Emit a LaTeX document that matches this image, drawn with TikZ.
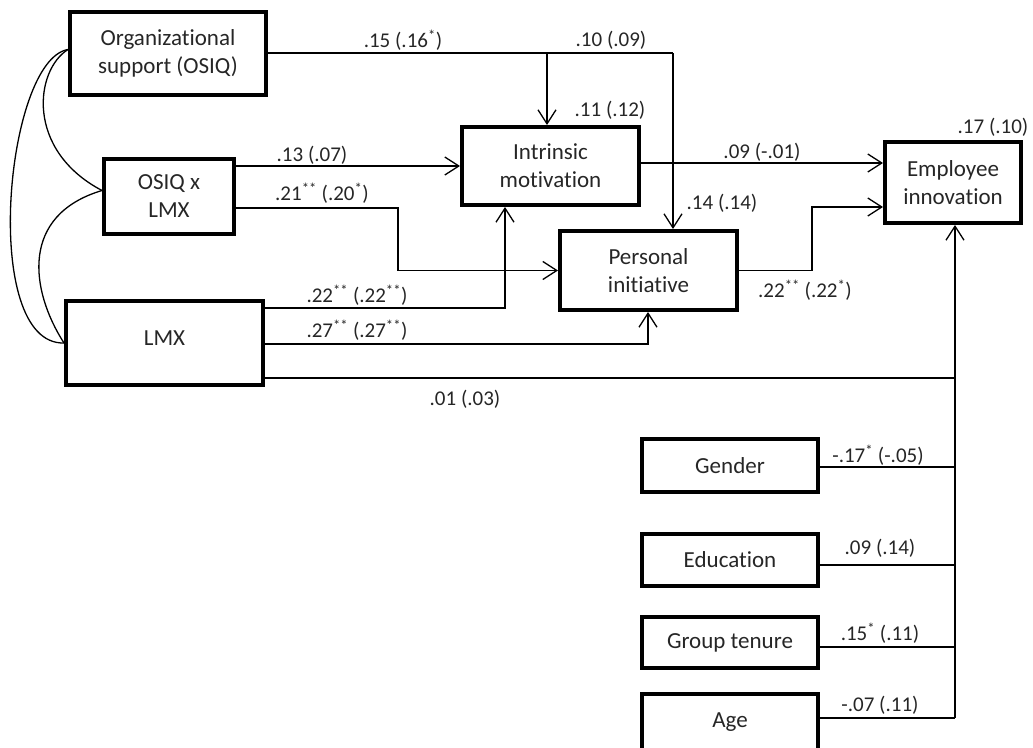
\documentclass[tikz,border=0pt]{standalone}
\usepackage{fontspec}
\setmainfont{Carlito}[RawFeature={-liga}]
\usetikzlibrary{arrows.meta,calc}
\begin{document}
\begin{tikzpicture}[x=1pt,y=-1pt,
  box/.style={draw=black,line width=4pt,align=center,inner sep=0pt,font=\fontsize{23}{28}\selectfont,text=black!85},
  lab/.style={inner sep=0pt,font=\fontsize{21}{25}\selectfont,text=black!85},
  con/.style={line width=1.3pt},
  arr/.style={line width=1.3pt,-{Straight Barb[length=14pt,width=18pt]}}]
\useasboundingbox (0,0) rectangle (1033,747);
\clip (0,0) rectangle (1033,747);
% boxes
\node[box,minimum width=196pt,minimum height=83pt] (org) at (168,53.5) {Organizational\\support (OSIQ)};
\node[box,minimum width=130pt,minimum height=75pt] (osiq) at (169,196.5) {OSIQ x\\LMX};
\node[box,minimum width=197pt,minimum height=84pt] (lmx) at (164.5,343) {\raisebox{9pt}{LMX}};
\node[box,minimum width=177pt,minimum height=78pt] (im) at (550.5,166) {Intrinsic\\motivation};
\node[box,minimum width=177pt,minimum height=79pt] (pi) at (648.5,270.5) {Personal\\initiative};
\node[box,minimum width=136pt,minimum height=81pt] (ei) at (953,182.5) {Employee\\innovation};
\node[box,minimum width=176pt,minimum height=53pt] (gender) at (730,465.5) {Gender};
\node[box,minimum width=176pt,minimum height=52pt] (edu) at (730,560) {Education};
\node[box,minimum width=176pt,minimum height=51pt] (gt) at (730,642.5) {Group tenure};
\node[box,minimum width=176pt,minimum height=56pt] (age) at (730,722) {Age};
\coordinate (bt) at (955,718);
\coordinate (ob) at (547,53);
\coordinate (oc) at (673,53);
% correlation curves
\draw[con] ($(org.west)+(0,-4)$) .. controls (5,60) and (-20,345) .. (lmx.west);
\draw[con] ($(org.west)+(0,-4)$) .. controls (35,70) and (25,150) .. ($(osiq.west)+(0,-6)$);
\draw[con] ($(osiq.west)+(0,-6)$) .. controls (20,215) and (30,290) .. (lmx.west);
% org support paths
\draw[con] ($(org.east)+(0,-0.5)$) -- (oc);
\draw[arr] (ob) -- (ob |- im.north);
\draw[arr] (oc) -- (oc |- pi.north);
% OSIQ x LMX
\draw[arr] (im.west -| osiq.east) -- (im.west);
\draw[arr] ($(osiq.east)+(0,11.5)$) -- (398,208) |- (pi.west);
% LMX
\draw[arr] ($(lmx.east)+(0,-35)$) -| ($(im.south)+(-45.5,0)$);
\draw[arr] ($(lmx.east)+(0,1)$) -| ($(pi.south)+(-0.5,0)$);
\draw[con] ($(lmx.east)+(0,35)$) -| (bt);
% mediators to outcome
\draw[arr] ($(im.east)+(0,-3)$) coordinate (imo) -- (imo -| ei.west);
\draw[arr] (pi.east) -- ++(73,0) |- ($(ei.west)+(0,24.5)$);
% controls
\draw[arr] (bt) -- (bt |- ei.south);
\draw[con] ($(gender.east)+(0,1.5)$) -| (bt);
\draw[con] ($(edu.east)+(0,5)$) -| (bt);
\draw[con] ($(gt.east)+(0,4.5)$) -| (bt);
\draw[con] ($(age.east)+(0,-4)$) -- (bt);
% labels
\node[lab] (l1) at (403,40) {.15 (.16\textsuperscript{*})};
\node[lab] (l2) at (611,40) {.10 (.09)};
\node[lab] (l3) at (610,110) {.11 (.12)};
\node[lab] (l4) at (312,155) {.13 (.07)};
\node[lab] (l5) at (322,193) {.21\textsuperscript{**} (.20\textsuperscript{*})};
\node[lab] (l6) at (357,295) {.22\textsuperscript{**} (.22\textsuperscript{**})};
\node[lab] (l7) at (357,330) {.27\textsuperscript{**} (.27\textsuperscript{**})};
\node[lab] (l8) at (465,399) {.01 (.03)};
\node[lab] (l9) at (762,152) {.09 (-.01)};
\node[lab] (l10) at (722,203) {.14 (.14)};
\node[lab] (l11) at (805,290) {.22\textsuperscript{**} (.22\textsuperscript{*})};
\node[lab] (l12) at (993,127) {.17 (.10)};
\node[lab] (l13) at (878,455) {-.17\textsuperscript{*} (-.05)};
\node[lab] (l14) at (880,548) {.09 (.14)};
\node[lab] (l15) at (880,633) {.15\textsuperscript{*} (.11)};
\node[lab] (l16) at (880,705) {-.07 (.11)};
\end{tikzpicture}
\end{document}
